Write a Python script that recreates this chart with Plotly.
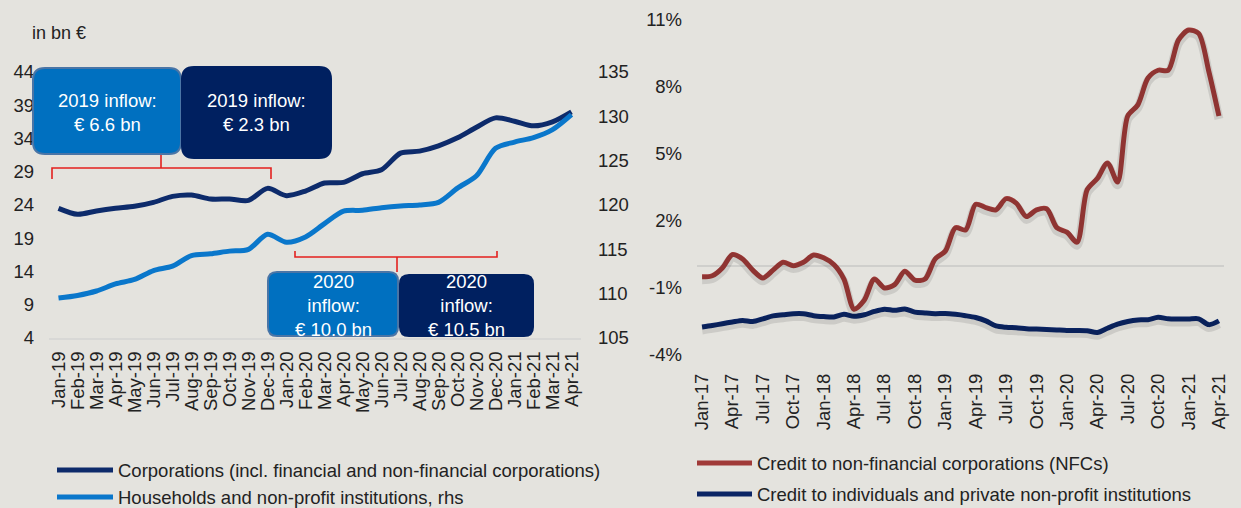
import pandas as pd
import plotly.graph_objects as go

W, H = 1241, 508

# left chart: monthly stock, Jan-19 .. Apr-21
months_left = [d.strftime("%b-%y") for d in pd.date_range("2019-01-01", "2021-04-01", freq="MS")]
corporations = [23.5, 22.6, 23.1, 23.5, 23.8, 24.4, 25.3, 25.5, 24.9, 24.9, 24.7, 26.5,
                25.4, 26.1, 27.3, 27.4, 28.7, 29.3, 31.8, 32.1, 32.9, 34.1, 35.7, 37.1,
                36.6, 35.9, 36.5, 38.0]
households = [109.5, 109.8, 110.3, 111.1, 111.6, 112.6, 113.1, 114.3, 114.5, 114.8, 115.0, 116.7,
              115.8, 116.4, 117.9, 119.3, 119.4, 119.7, 119.9, 120.0, 120.3, 121.9, 123.3, 126.4,
              127.1, 127.6, 128.5, 130.2]

# right chart: annual credit growth, Jan-17 .. Apr-21 (%)
months_right = [d.strftime("%b-%y") for d in pd.date_range("2017-01-01", "2021-04-01", freq="MS")]
credit_nfc = [-0.5, -0.45, -0.1, 0.5, 0.3, -0.2, -0.55, -0.2, 0.15, 0.0, 0.15, 0.48,
              0.35, 0.05, -0.6, -1.95, -1.55, -0.6, -1.0, -0.85, -0.25, -0.65, -0.6, 0.3,
              0.65, 1.7, 1.6, 2.75, 2.6, 2.5, 3.0, 2.8, 2.2, 2.5, 2.55, 1.7,
              1.5, 1.05, 3.4, 3.9, 4.6, 3.75, 6.7, 7.2, 8.4, 8.75, 8.75, 10.1,
              10.55, 10.4, 8.7, 6.7]
credit_ind = [-2.75, -2.68, -2.6, -2.52, -2.45, -2.5, -2.38, -2.25, -2.2, -2.15, -2.15, -2.24,
              -2.28, -2.3, -2.18, -2.27, -2.2, -2.05, -1.95, -2.0, -1.94, -2.08, -2.12, -2.15,
              -2.14, -2.18, -2.24, -2.32, -2.47, -2.7, -2.76, -2.78, -2.82, -2.84, -2.86, -2.88,
              -2.9, -2.9, -2.91, -2.99, -2.8, -2.62, -2.5, -2.43, -2.42, -2.31, -2.38, -2.39,
              -2.39, -2.38, -2.64, -2.47]
right_ticks = [-4, -1, 2, 5, 8, 11]
right_ticklabels = ["-4%", "-1%", "2%", "5%", "8%", "11%"]

BG = "#E4E3DE"
NAVY = "#0D2B6B"
LIGHT = "#0A77CB"
RED = "#A03A38"
NAVY2 = "#0B2565"
BOX_LIGHT = "#0070C0"
BOX_DARK = "#002060"
BRACKET = "#E3211E"
FONT = "Liberation Sans, Arial, sans-serif"
FS = 18.5


def px(x):
    return x / W


def py(y):
    return 1 - y / H


fig = go.Figure()

fig.add_trace(go.Scatter(x=months_left, y=corporations, mode="lines", xaxis="x", yaxis="y",
                         line=dict(color=NAVY, width=5, shape="spline", smoothing=0.8),
                         name="Corporations (incl. financial and non-financial corporations)"))
fig.add_trace(go.Scatter(x=months_left, y=households, mode="lines", xaxis="x", yaxis="y2",
                         line=dict(color=LIGHT, width=5, shape="spline", smoothing=0.8),
                         name="Households and non-profit institutions, rhs"))

# soft drop shadows on the right chart (same data, slightly shifted axis)
for ser in (credit_nfc, credit_ind):
    fig.add_trace(go.Scatter(x=months_right, y=ser, mode="lines", xaxis="x2", yaxis="y4",
                             line=dict(color="rgba(0,0,0,0.10)", width=9, shape="spline", smoothing=0.8),
                             hoverinfo="skip"))
fig.add_trace(go.Scatter(x=months_right, y=credit_nfc, mode="lines", xaxis="x2", yaxis="y3",
                         line=dict(color=RED, width=5, shape="spline", smoothing=0.8),
                         name="Credit to non-financial corporations (NFCs)"))
fig.add_trace(go.Scatter(x=months_right, y=credit_ind, mode="lines", xaxis="x2", yaxis="y3",
                         line=dict(color=NAVY2, width=5, shape="spline", smoothing=0.8),
                         name="Credit to individuals and private non-profit institutions"))

tickfont = dict(family=FONT, size=FS, color="#222222")

fig.update_layout(
    width=W, height=H,
    paper_bgcolor=BG, plot_bgcolor=BG,
    margin=dict(l=0, r=0, t=0, b=0, pad=0, autoexpand=False),
    showlegend=False,
    font=dict(family=FONT, size=FS, color="#222222"),
    xaxis=dict(domain=[px(49), px(581)], type="category", range=[-0.5, 27.5],
               tickmode="array", tickvals=months_left, automargin=False,
               tickangle=-90, tickfont=tickfont, showgrid=False, zeroline=False,
               showline=True, linecolor="#D8D8D6", linewidth=2, ticks="",
               ticklabelstandoff=4, anchor="y"),
    yaxis=dict(domain=[py(338), py(72)], range=[4, 44], tick0=4, dtick=5, automargin=False,
               tickfont=tickfont, showgrid=False, zeroline=False, showline=False,
               ticklabelstandoff=14, anchor="x"),
    yaxis2=dict(overlaying="y", side="right", range=[105, 135], tick0=105, dtick=5,
                automargin=False, tickfont=tickfont, showgrid=False, zeroline=False,
                showline=False, ticklabelstandoff=16, anchor="x"),
    xaxis2=dict(domain=[px(697), px(1224)], type="category", range=[-0.5, 51.5],
                tickmode="array", tickvals=months_right[::3], tickangle=-90, tickfont=tickfont,
                automargin=False, showgrid=False, zeroline=False, showline=False, ticks="",
                ticklabelstandoff=14, anchor="y3"),
    yaxis3=dict(domain=[py(355), py(20)], range=[-4, 11], tickmode="array",
                tickvals=right_ticks, ticktext=right_ticklabels, tickfont=tickfont,
                automargin=False, showgrid=False, zeroline=True, zerolinecolor="#CFCFCC",
                zerolinewidth=2, showline=False, ticklabelstandoff=14, anchor="x2"),
    yaxis4=dict(overlaying="y3", range=[-4 + 0.13, 11 + 0.13], visible=False,
                automargin=False, anchor="x2"),
)

shapes = []
annotations = []


def rounded_box(x0, y0, x1, y1, fill, border, r=12):
    X0, X1 = px(x0), px(x1)
    Y0, Y1 = py(y0), py(y1)
    rx, ry = r / W, r / H
    path = (f"M{X0 + rx},{Y0} L{X1 - rx},{Y0} Q{X1},{Y0} {X1},{Y0 - ry} "
            f"L{X1},{Y1 + ry} Q{X1},{Y1} {X1 - rx},{Y1} L{X0 + rx},{Y1} "
            f"Q{X0},{Y1} {X0},{Y1 + ry} L{X0},{Y0 - ry} Q{X0},{Y0} {X0 + rx},{Y0} Z")
    shapes.append(dict(type="path", xref="paper", yref="paper", path=path,
                       fillcolor=fill, line=dict(color=border, width=2), layer="above"))


def box_text(x, y, text):
    annotations.append(dict(xref="paper", yref="paper", x=px(x), y=py(y), text=text,
                            showarrow=False, xanchor="center", yanchor="middle",
                            font=dict(family=FONT, size=FS, color="white"), align="center"))


def bracket(points):
    path = "M" + " L".join(f"{px(a)},{py(b)}" for a, b in points)
    shapes.append(dict(type="path", xref="paper", yref="paper", path=path,
                       line=dict(color=BRACKET, width=1.6), layer="above"))


# 2019 bracket and boxes
bracket([(52, 179), (52, 168), (271, 168), (271, 179)])
bracket([(161, 168), (161, 154)])
rounded_box(33, 68, 181, 154, BOX_LIGHT, "#4A75A6")
rounded_box(182, 67, 331, 158, BOX_DARK, BOX_DARK)
box_text(107, 112, "2019 inflow:<br>€ 6.6 bn")
box_text(256, 112, "2019 inflow:<br>€ 2.3 bn")

# 2020 bracket and boxes
bracket([(295, 251), (295, 257), (497, 257), (497, 251)])
bracket([(397, 257), (397, 272)])
rounded_box(268, 272, 398, 336, BOX_LIGHT, "#4A75A6", r=9)
rounded_box(400, 275, 533, 336, BOX_DARK, BOX_DARK, r=9)
box_text(333, 305, "2020<br>inflow:<br>€ 10.0 bn")
box_text(466, 305, "2020<br>inflow:<br>€ 10.5 bn")

annotations.append(dict(xref="paper", yref="paper", x=px(30), y=py(33), text="in bn €",
                        showarrow=False, xanchor="left", yanchor="middle",
                        font=dict(family=FONT, size=18, color="#222222")))

# legends
legend_items = [
    (57, 113, 470, NAVY, "Corporations (incl. financial and non-financial corporations)"),
    (57, 113, 497, LIGHT, "Households and non-profit institutions, rhs"),
    (697, 752, 463, RED, "Credit to non-financial corporations (NFCs)"),
    (697, 752, 494, NAVY2, "Credit to individuals and private non-profit institutions"),
]
for x0, x1, y, col, label in legend_items:
    shapes.append(dict(type="line", xref="paper", yref="paper", x0=px(x0), x1=px(x1),
                       y0=py(y), y1=py(y), line=dict(color=col, width=5)))
    annotations.append(dict(xref="paper", yref="paper", x=px(x1 + 3), y=py(y), text=label,
                            showarrow=False, xanchor="left", yanchor="middle",
                            font=dict(family=FONT, size=FS, color="#222222")))

fig.update_layout(shapes=shapes, annotations=annotations)

fig.write_html("out.html", config={"displayModeBar": False},
               post_script="document.body.style.margin='0';"
                           "document.body.style.overflow='hidden';"
                           "document.body.style.backgroundColor='" + BG + "';")
